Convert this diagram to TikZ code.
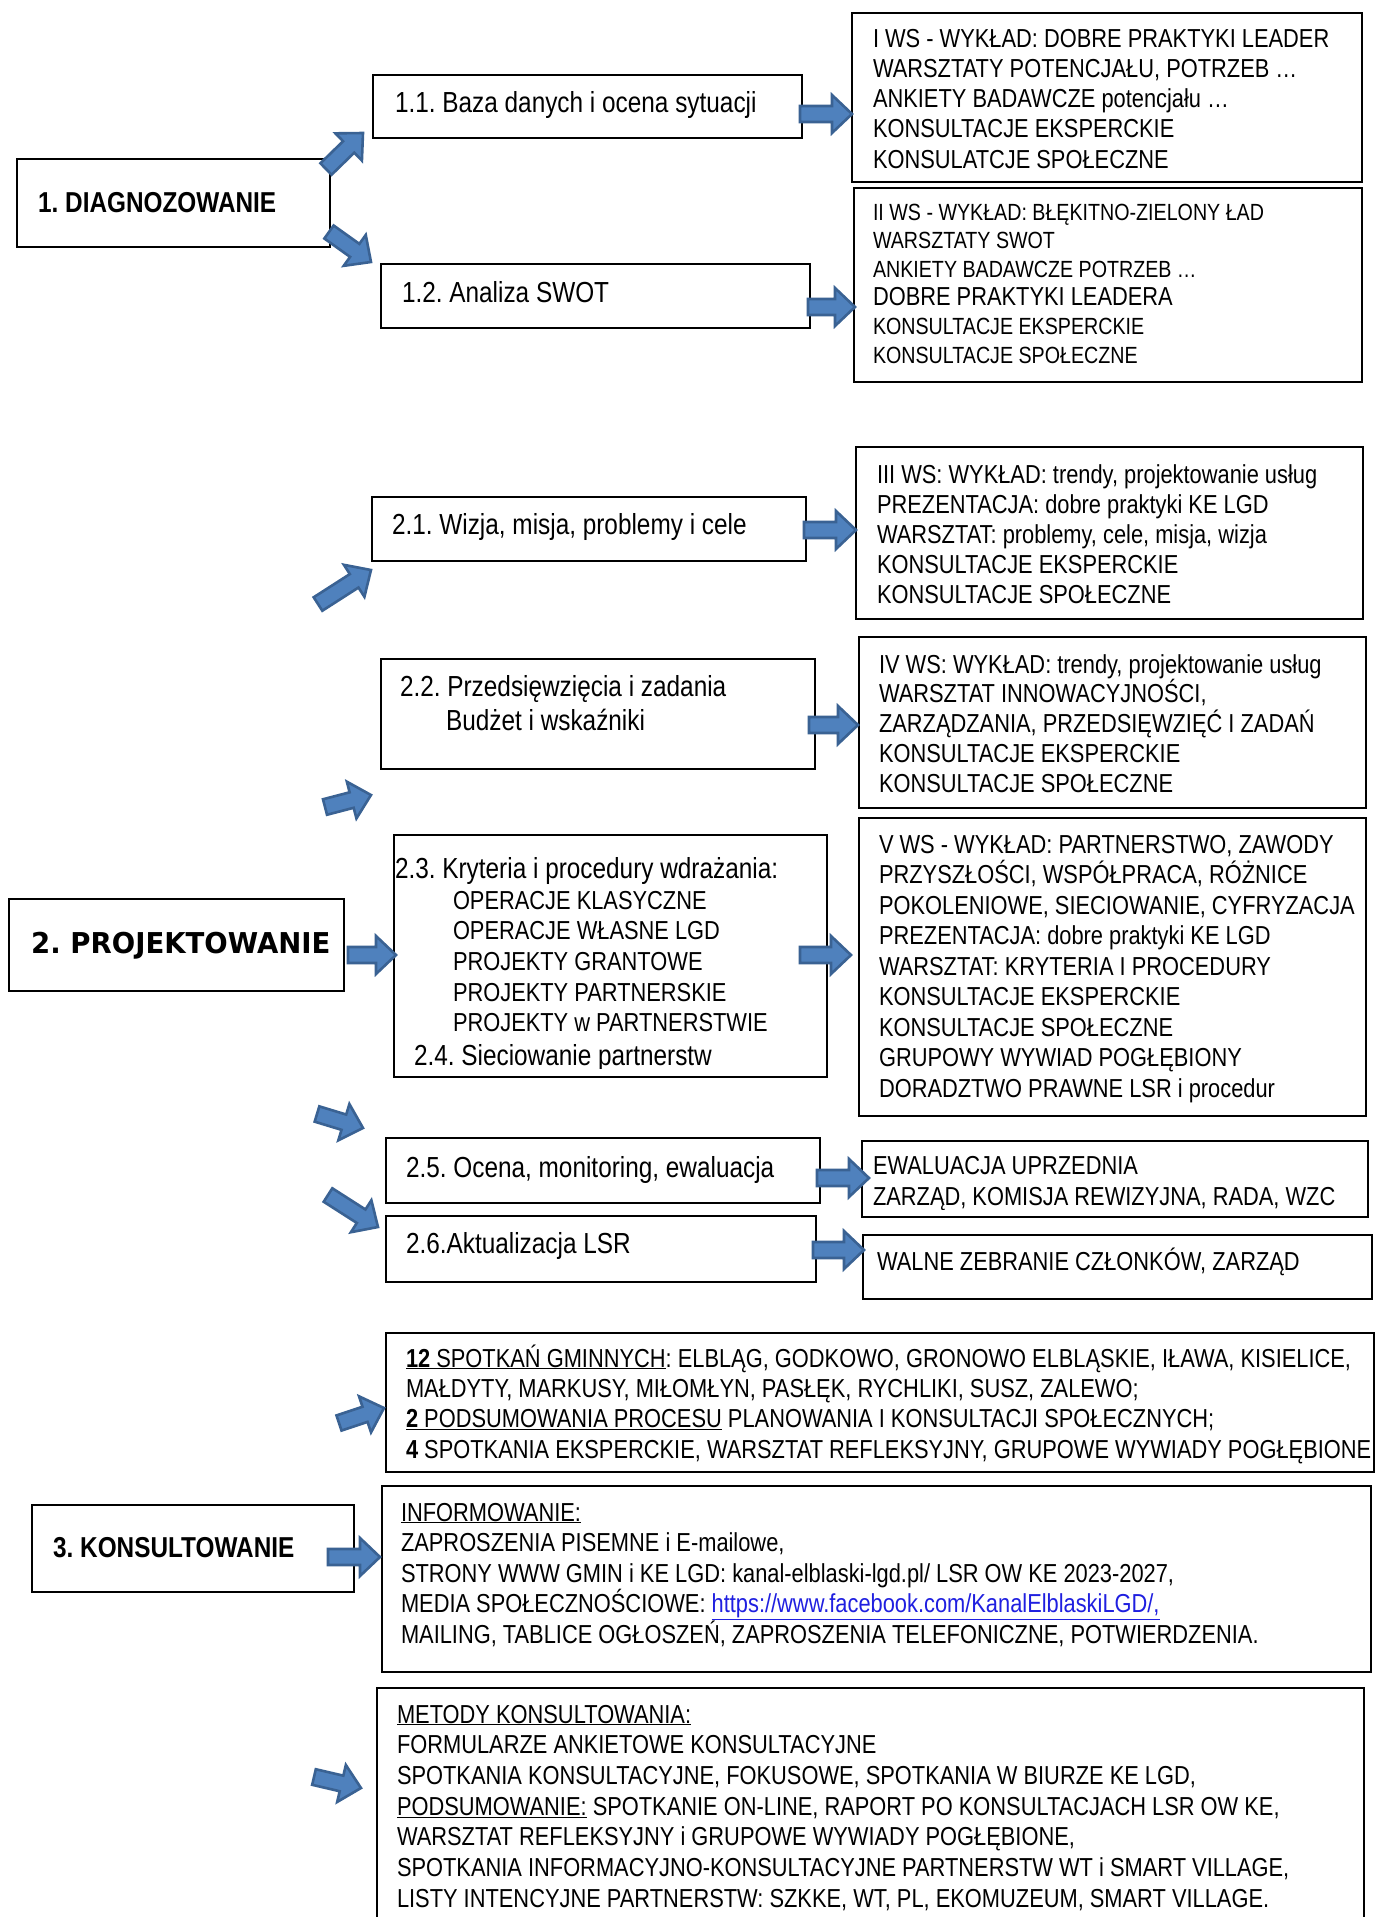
\documentclass[tikz,border=0pt]{standalone}
\usepackage{fontspec}
\setmainfont{Liberation Sans}
\newfontfamily\nar[FakeStretch=0.84]{Liberation Sans}
\newfontfamily\hdfont[FakeStretch=0.845]{Liberation Sans}
\newfontfamily\projfont[FakeStretch=0.96]{DejaVu Sans}
\usetikzlibrary{calc,fit}
\definecolor{arrowfill}{HTML}{4F81BD}
\definecolor{arrowedge}{HTML}{3A6293}
\definecolor{linkblue}{HTML}{1F1FE0}
\tikzset{
  box/.style={draw=black, line width=1.6pt, inner sep=0pt, rectangle},
  txt/.style={anchor=base west, inner sep=0pt, outer sep=0pt, align=left, font=\nar\fontsize{26}{30.5}\selectfont},
  lbl/.style={txt, font=\nar\fontsize{29}{34}\selectfont},
  head/.style={anchor=base west, inner sep=0pt, font=\hdfont\bfseries\fontsize{28.8}{30}\selectfont},
  arrowbody/.style={fill=arrowfill, draw=arrowedge, line width=2.6pt},
  pics/barrowshape/.style={code={\filldraw[arrowbody] (0,-8) -- ({#1-20},-8) -- ({#1-20},-19) -- (#1,0) -- ({#1-20},19) -- ({#1-20},8) -- (0,8) -- cycle;}}
}
\newcommand\barrow[2]{\path let \p1=($(#2)-(#1)$), \n1={atan2(\y1,\x1)}, \n2={veclen(\x1,\y1)} in (#1) pic[rotate=\n1]{barrowshape=\n2};}
\begin{document}
\frenchspacing
\begin{tikzpicture}[x=1pt,y=-1pt]
\useasboundingbox (0,0) rectangle (1375,1917);
\fill[white] (0,0) rectangle (1375,1917);
% multi-line text nodes are anchored at the baseline of their LAST line

% ---------- 1. DIAGNOZOWANIE ----------
\node[box, fit={(17,159)(330,247)}] (diag) {};
\node[head] (tdiag) at (38,212) {1. DIAGNOZOWANIE};
\node[box, fit={(373,75)(802,138)}] (b11) {};
\node[lbl] (t11) at (395,112) {1.1. Baza danych i ocena sytuacji};
\node[box, fit={(381,264)(810,328)}] (b12) {};
\node[lbl] (t12) at (402,302) {1.2. Analiza SWOT};
\node[box, fit={(852,13)(1362,182)}] (ws1) {};
\node[txt, font=\nar\fontsize{26}{30.3}\selectfont] (tws1) at (873,168.2) {I WS - WYKŁAD: DOBRE PRAKTYKI LEADER\\WARSZTATY POTENCJAŁU, POTRZEB …\\ANKIETY BADAWCZE potencjału …\\KONSULTACJE EKSPERCKIE\\KONSULATCJE SPOŁECZNE};
\node[box, fit={(854,188)(1362,382)}] (ws2) {};
\node[txt, font=\nar\fontsize{23.4}{28.6}\selectfont] (tws2) at (873,363) {II WS - WYKŁAD: BŁĘKITNO-ZIELONY ŁAD\\WARSZTATY SWOT\\ANKIETY BADAWCZE POTRZEB …\\{\fontsize{26}{28.6}\selectfont DOBRE PRAKTYKI LEADERA}\\KONSULTACJE EKSPERCKIE\\KONSULTACJE SPOŁECZNE};

% ---------- 2. PROJEKTOWANIE ----------
\node[box, fit={(856,447)(1363,619)}] (ws3) {};
\node[txt, font=\nar\fontsize{26}{30}\selectfont] (tws3) at (877,603) {III WS: WYKŁAD: trendy, projektowanie usług\\PREZENTACJA: dobre praktyki KE LGD\\WARSZTAT: problemy, cele, misja, wizja\\KONSULTACJE EKSPERCKIE\\KONSULTACJE SPOŁECZNE};
\node[box, fit={(372,497)(806,561)}] (b21) {};
\node[lbl] (t21) at (392,534) {2.1. Wizja, misja, problemy i cele};
\node[box, fit={(381,659)(815,769)}] (b22) {};
\node[lbl] (t22) at (400,730) {2.2. Przedsięwzięcia i zadania\\\hspace*{46pt}Budżet i wskaźniki};
\node[box, fit={(859,637)(1366,808)}] (ws4) {};
\node[txt, font=\nar\fontsize{26}{29.8}\selectfont] (tws4) at (879,792.2) {IV WS: WYKŁAD: trendy, projektowanie usług\\WARSZTAT INNOWACYJNOŚCI,\\ZARZĄDZANIA, PRZEDSIĘWZIĘĆ I ZADAŃ\\KONSULTACJE EKSPERCKIE\\KONSULTACJE SPOŁECZNE};
\node[box, fit={(9,899)(344,991)}] (proj) {};
\node[anchor=base west, inner sep=0pt, font=\projfont\bfseries\fontsize{28.7}{30}\selectfont] (tproj) at (31,953) {2. PROJEKTOWANIE};
\node[box, fit={(394,835)(827,1077)}] (b23) {};
\node[lbl] (t23) at (395,878) {2.3. Kryteria i procedury wdrażania:};
\node[txt, font=\nar\fontsize{26}{30.7}\selectfont] (t23b) at (453,1031.8) {OPERACJE KLASYCZNE\\OPERACJE WŁASNE LGD\\PROJEKTY GRANTOWE\\PROJEKTY PARTNERSKIE\\PROJEKTY w PARTNERSTWIE};
\begin{scope}
\clip (396,1030) rectangle (826,1068);
\node[lbl] (t24) at (414,1065) {2.4. Sieciowanie partnerstw};
\end{scope}
\node[box, fit={(859,818)(1366,1116)}] (ws5) {};
\node[txt, font=\nar\fontsize{26}{30.5}\selectfont] (tws5) at (879,1097) {V WS - WYKŁAD: PARTNERSTWO, ZAWODY\\PRZYSZŁOŚCI, WSPÓŁPRACA, RÓŻNICE\\POKOLENIOWE, SIECIOWANIE, CYFRYZACJA\\PREZENTACJA: dobre praktyki KE LGD\\WARSZTAT: KRYTERIA I PROCEDURY\\KONSULTACJE EKSPERCKIE\\KONSULTACJE SPOŁECZNE\\GRUPOWY WYWIAD POGŁĘBIONY\\DORADZTWO PRAWNE LSR i procedur};
\node[box, fit={(386,1138)(820,1203)}] (b25) {};
\node[lbl] (t25) at (406,1177) {2.5. Ocena, monitoring, ewaluacja};
\node[box, fit={(386,1216)(816,1282)}] (b26) {};
\node[lbl] (t26) at (406,1253) {2.6.Aktualizacja LSR};
\node[box, fit={(862,1141)(1368,1217)}] (ewal) {};
\begin{scope}
\clip (864,1143) rectangle (1366,1209);
\node[txt, font=\nar\fontsize{26}{31}\selectfont] (tewal) at (873,1205) {EWALUACJA UPRZEDNIA\\ZARZĄD, KOMISJA REWIZYJNA, RADA, WZC};
\end{scope}
\node[box, fit={(863,1235)(1372,1299)}] (walne) {};
\node[txt] (twalne) at (877,1270) {WALNE ZEBRANIE CZŁONKÓW, ZARZĄD};

% ---------- 3. KONSULTOWANIE ----------
\node[box, fit={(386,1333)(1374,1472)}] (spot) {};
\node[txt, font=\nar\fontsize{26}{30.4}\selectfont] (tspot) at (406,1458.2) {\underline{\textbf{12} SPOTKAŃ GMINNYCH}: ELBLĄG, GODKOWO, GRONOWO ELBLĄSKIE, IŁAWA, KISIELICE,\\MAŁDYTY, MARKUSY, MIŁOMŁYN, PASŁĘK, RYCHLIKI, SUSZ, ZALEWO;\\\underline{\textbf{2} PODSUMOWANIA PROCESU} PLANOWANIA I KONSULTACJI SPOŁECZNYCH;\\\textbf{4} SPOTKANIA EKSPERCKIE, WARSZTAT REFLEKSYJNY, GRUPOWE WYWIADY POGŁĘBIONE};
\node[box, fit={(32,1505)(354,1592)}] (kons) {};
\node[head] (tkons) at (53,1557) {3. KONSULTOWANIE};
\node[box, fit={(382,1486)(1371,1672)}] (info) {};
\node[txt, font=\nar\fontsize{26}{30.5}\selectfont] (tinfo) at (401,1643) {\underline{INFORMOWANIE:}\\ZAPROSZENIA PISEMNE i E-mailowe,\\STRONY WWW GMIN i KE LGD: kanal-elblaski-lgd.pl/ LSR OW KE 2023-2027,\\MEDIA SPOŁECZNOŚCIOWE: {\color{linkblue}\underline{https://www.facebook.com/KanalElblaskiLGD/,}}\\MAILING, TABLICE OGŁOSZEŃ, ZAPROSZENIA TELEFONICZNE, POTWIERDZENIA.};
\node[box, fit={(377,1688)(1364,1940)}] (meto) {};
\node[txt, font=\nar\fontsize{26}{30.7}\selectfont] (tmeto) at (397,1907.2) {\underline{METODY KONSULTOWANIA:}\\FORMULARZE ANKIETOWE KONSULTACYJNE\\SPOTKANIA KONSULTACYJNE, FOKUSOWE, SPOTKANIA W BIURZE KE LGD,\\\underline{PODSUMOWANIE:} SPOTKANIE ON-LINE, RAPORT PO KONSULTACJACH LSR OW KE,\\WARSZTAT REFLEKSYJNY i GRUPOWE WYWIADY POGŁĘBIONE,\\SPOTKANIA INFORMACYJNO-KONSULTACYJNE PARTNERSTW WT i SMART VILLAGE,\\LISTY INTENCYJNE PARTNERSTW: SZKKE, WT, PL, EKOMUZEUM, SMART VILLAGE.};

% ---------- block arrows ----------
\coordinate (a1s) at (326,169);  \coordinate (a1e) at (363,133);
\coordinate (a2s) at (329,232);  \coordinate (a2e) at (371,262);
\coordinate (a3s) at (318,604);  \coordinate (a3e) at (371,570);
\coordinate (a4s) at (325,807);  \coordinate (a4e) at (371,795);
\coordinate (a5s) at (317,1114); \coordinate (a5e) at (363,1128);
\coordinate (a6s) at (328,1195); \coordinate (a6e) at (378,1227);
\coordinate (a7s) at (339,1423); \coordinate (a7e) at (384,1408);
\coordinate (a8s) at (314,1777); \coordinate (a8e) at (361,1788);
\coordinate (h1s) at (800,114);  \coordinate (h1e) at (852,114);
\coordinate (h2s) at (808,307);  \coordinate (h2e) at (855,307);
\coordinate (h3s) at (804,530);  \coordinate (h3e) at (856,530);
\coordinate (h4s) at (809,725);  \coordinate (h4e) at (858,725);
\coordinate (h5s) at (348,955);  \coordinate (h5e) at (396,955);
\coordinate (h6s) at (800,955);  \coordinate (h6e) at (851,955);
\coordinate (h7s) at (817,1178); \coordinate (h7e) at (869,1178);
\coordinate (h8s) at (813,1250); \coordinate (h8e) at (864,1250);
\coordinate (h9s) at (328,1557); \coordinate (h9e) at (380,1557);
\foreach \a in {a1,a2,a3,a4,a5,a6,a7,a8,h1,h2,h3,h4,h5,h6,h7,h8,h9}{\barrow{\a s}{\a e}}
\end{tikzpicture}
\end{document}
